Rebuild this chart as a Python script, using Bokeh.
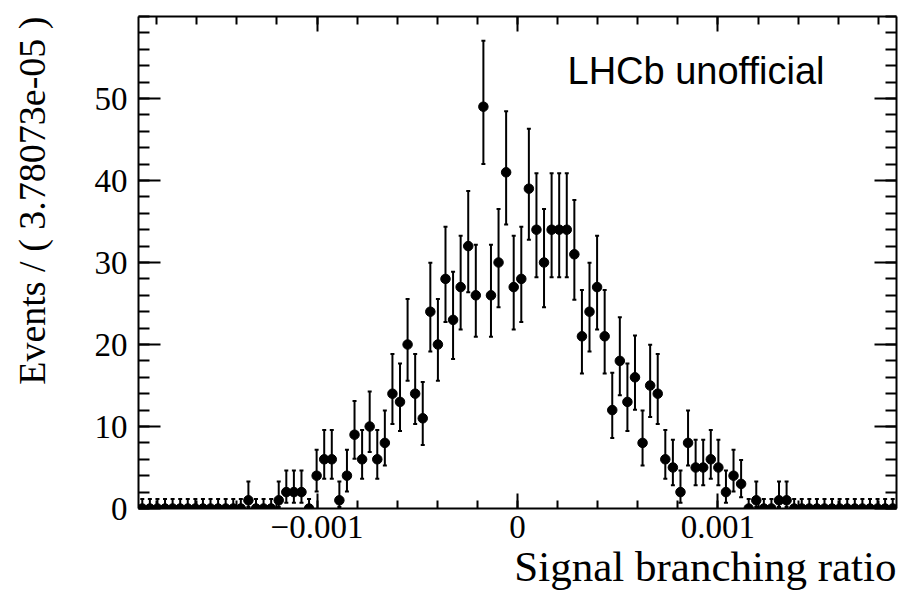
import math
import numpy as np
from bokeh.plotting import figure
from bokeh.models import (Range1d, LinearAxis, FixedTicker, Whisker, TeeHead,
                          ColumnDataSource, Label, Title)
from bokeh.embed import file_html
from bokeh.resources import INLINE

# ---------------- data ----------------
bin_width = 3.78073e-05
n_bins = 100
counts = [0, 0, 0, 0, 0, 0, 0, 0, 0, 0,
          0, 0, 0, 0, 1, 0, 0, 0, 1, 2,
          2, 2, 0, 4, 6, 6, 1, 4, 9, 6,
          10, 6, 8, 14, 13, 20, 14, 11, 24, 20,
          28, 23, 27, 32, 26, 49, 26, 30, 41, 27,
          28, 39, 34, 30, 34, 34, 34, 31, 21, 24,
          27, 21, 12, 18, 13, 16, 8, 15, 14, 6,
          5, 2, 8, 5, 5, 6, 5, 2, 4, 3,
          0, 1, 0, 0, 1, 1, 0, 0, 0, 0,
          0, 0, 0, 0, 0, 0, 0, 0, 0, 0]
x_ticks = [-0.001, 0.0, 0.001]
x_tick_labels = {-0.001: "\u22120.001", 0.0: "0", 0.001: "0.001"}
y_ticks = [0, 10, 20, 30, 40, 50]
x_title = "Signal branching ratio"
y_title = "Events / ( 3.78073e-05 )"
watermark = "LHCb unofficial"

x_lo = -0.5 * n_bins * bin_width
x_hi = 0.5 * n_bins * bin_width
centers = x_lo + (np.arange(n_bins) + 0.5) * bin_width


# Poisson (Garwood) intervals as used by RooFit
def pcdf(n, mu):
    term = math.exp(-mu)
    s = term
    for k in range(1, n + 1):
        term *= mu / k
        s += term
    return s


def bisect(f, a, b):
    for _ in range(100):
        m = 0.5 * (a + b)
        if f(m):
            a = m
        else:
            b = m
    return 0.5 * (a + b)


def poisson_interval(n):
    cl = 0.682689
    if n == 0:
        return 0.0, bisect(lambda m: pcdf(0, m) > 1 - cl, 0.0, 50.0)
    alpha = 0.5 * (1 - cl)
    up = bisect(lambda m: pcdf(n, m) > alpha, 0.0, 300.0)
    lo = bisect(lambda m: pcdf(n - 1, m) > 1 - alpha, 0.0, float(n))
    return lo, up


lows, highs = zip(*[poisson_interval(c) for c in counts])

src = ColumnDataSource(dict(x=centers, y=counts, lo=list(lows), hi=list(highs)))

# ---------------- layout ----------------
W, H = 903, 595
FL, FR, FT, FB = 138, 896, 16, 508
y_bot, y_top = 0.0, 60.0
SERIF = "Liberation Serif"
SANS = "Liberation Sans"

p = figure(width=W, height=H, output_backend="svg", toolbar_location=None,
           x_range=Range1d(x_lo, x_hi), y_range=Range1d(y_bot, y_top),
           x_axis_type=None, y_axis_type=None,
           min_border_left=FL, min_border_right=W - FR,
           min_border_top=FT, min_border_bottom=H - FB)
p.outline_line_color = None
p.grid.visible = False
p.background_fill_color = "white"
p.border_fill_color = "white"

px_x = (FR - FL) / (x_hi - x_lo)
px_y = (FB - FT) / (y_top - y_bot)


def dx(sx):
    return x_lo + (sx - FL) / px_x


def dy(sy):
    return y_bot + (FB - sy) / px_y


x_minor = [round(v, 6) for v in np.arange(-0.0018, 0.00181, 0.0002)]
y_minor = list(range(0, 61, 2))


def style_axis(ax, major_in, minor_in):
    ax.axis_line_width = 2
    ax.axis_line_color = "black"
    ax.major_tick_line_width = 2
    ax.minor_tick_line_width = 2
    ax.major_tick_in = major_in
    ax.major_tick_out = 0
    ax.minor_tick_in = minor_in
    ax.minor_tick_out = 0
    ax.major_label_text_font = SERIF
    ax.major_label_text_color = "black"


xb = LinearAxis(ticker=FixedTicker(ticks=x_ticks, minor_ticks=x_minor))
style_axis(xb, 15, 8)
xb.major_label_text_font_size = "33px"
xb.major_label_standoff = 7
xb.major_label_overrides = x_tick_labels
p.add_layout(xb, "below")

xt = LinearAxis(ticker=FixedTicker(ticks=x_ticks, minor_ticks=x_minor))
style_axis(xt, 15, 8)
xt.major_label_overrides = {t: "" for t in x_ticks}
xt.major_label_standoff = 0
p.add_layout(xt, "above")

yl = LinearAxis(ticker=FixedTicker(ticks=y_ticks, minor_ticks=y_minor))
style_axis(yl, 22, 11)
yl.major_label_text_font_size = "33px"
yl.major_label_standoff = 11
p.add_layout(yl, "left")

yr = LinearAxis(ticker=FixedTicker(ticks=y_ticks, minor_ticks=y_minor))
style_axis(yr, 22, 11)
yr.major_label_overrides = {t: "" for t in y_ticks}
yr.major_label_standoff = 0
p.add_layout(yr, "right")

# invisible spacer panel between the y tick labels and the y title
spacer = LinearAxis(ticker=FixedTicker(ticks=[30], minor_ticks=[]))
spacer.axis_line_color = None
spacer.major_tick_line_color = None
spacer.minor_tick_line_color = None
spacer.major_tick_in = 0
spacer.major_tick_out = 39
spacer.minor_tick_in = 0
spacer.minor_tick_out = 0
spacer.major_label_standoff = 0
spacer.major_label_overrides = {30: ""}
p.add_layout(spacer, "left")

# y-axis title, aligned to the top end of the axis
p.add_layout(Title(text=y_title, align="right", vertical_align="bottom",
                   offset=0, standoff=0, text_font=SERIF,
                   text_font_style="normal", text_font_size="38px",
                   text_color="black"), "left")

# x-axis title, right aligned under the frame
p.add_layout(Title(text=x_title, align="right", vertical_align="bottom",
                   offset=0, standoff=0, text_font=SERIF,
                   text_font_style="normal", text_font_size="43px",
                   text_color="black"), "below")

# error bars and markers
p.add_layout(Whisker(source=src, base="x", lower="lo", upper="hi",
                     dimension="height", line_color="black", line_width=2,
                     upper_head=TeeHead(size=4, line_width=2, line_color="black"),
                     lower_head=TeeHead(size=4, line_width=2, line_color="black")))
p.scatter("x", "y", source=src, size=9.5, color="black", marker="circle")

# watermark
p.add_layout(Label(x=dx(567), y=dy(70), text=watermark, text_align="left",
                   text_baseline="alphabetic", text_font=SANS,
                   text_font_size="38px", text_color="black"))

open("out.html", "w").write(file_html(p, INLINE))
